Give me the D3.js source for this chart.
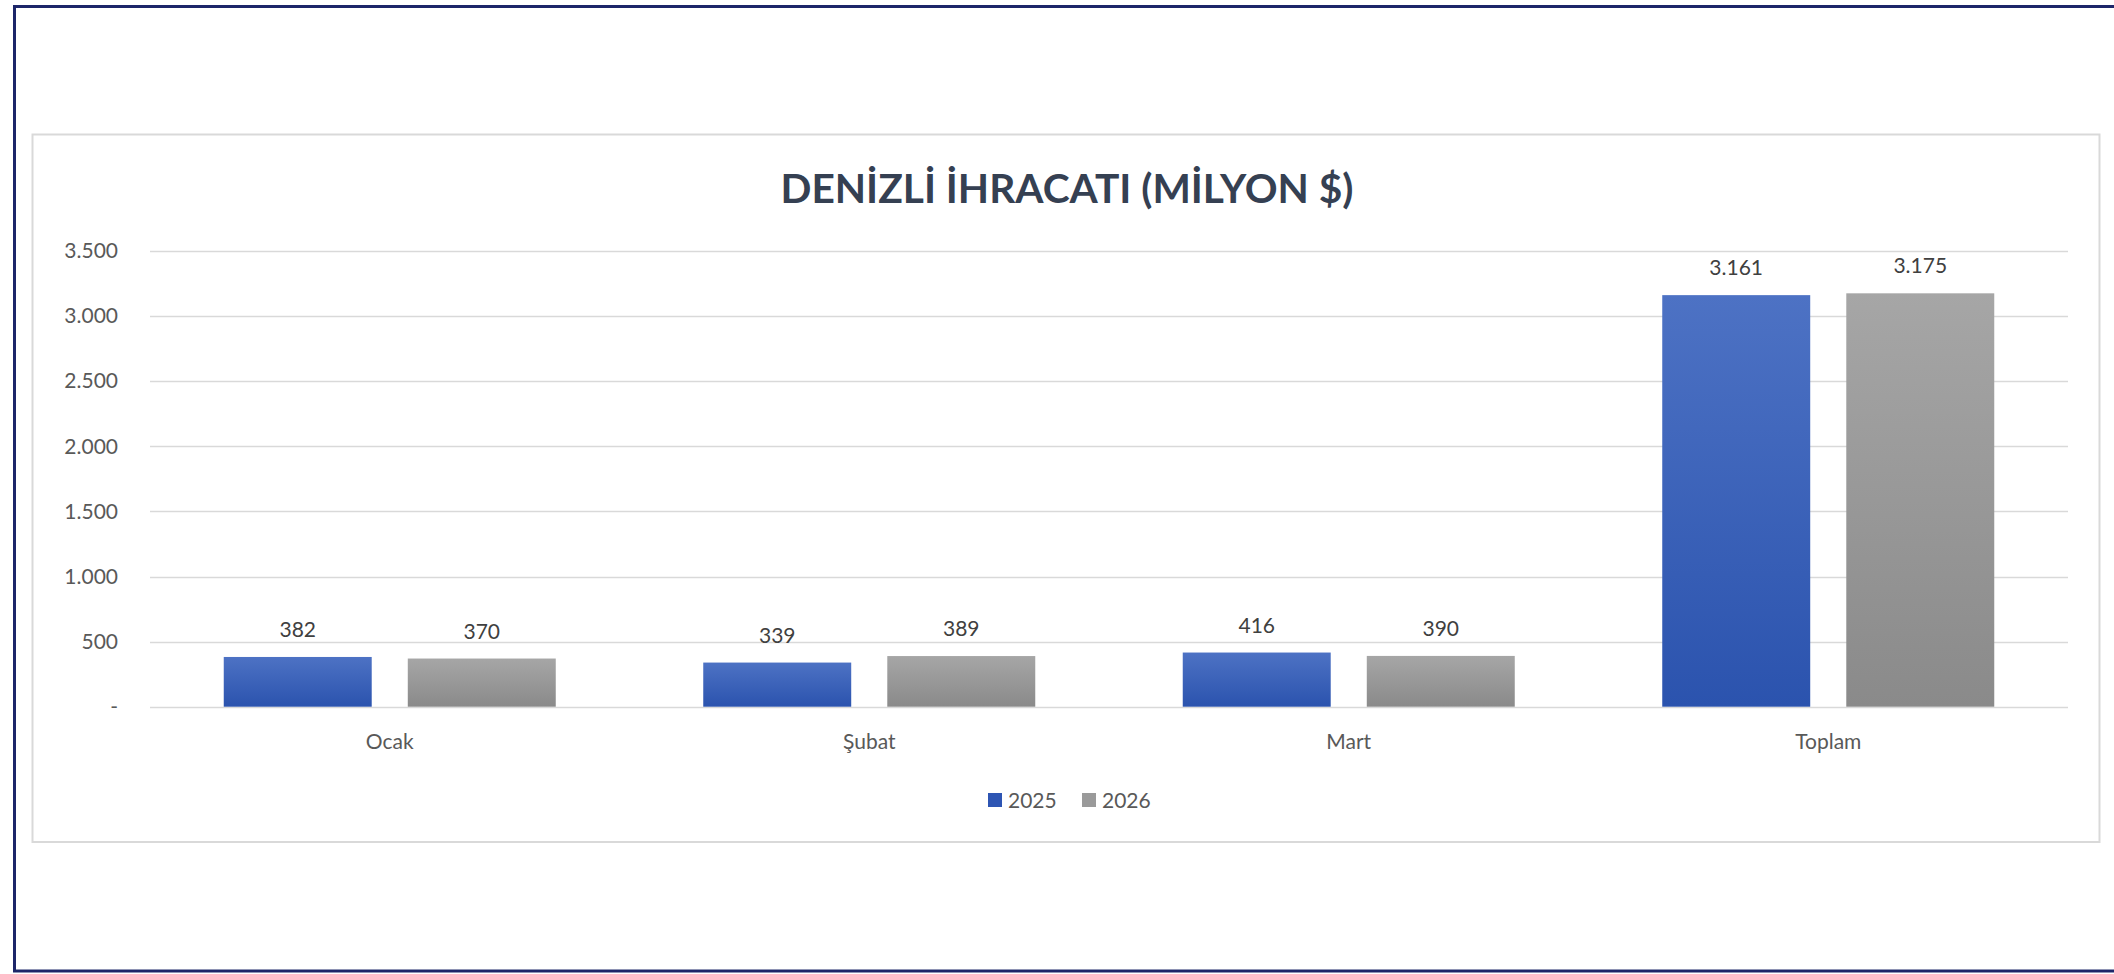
<!DOCTYPE html>
<html>
<head>
<meta charset="utf-8">
<script src="https://cdn.jsdelivr.net/npm/d3@7"></script>
<style>
  html, body { margin: 0; padding: 0; background: #ffffff; }
  svg { display: block; }
  text { font-family: Lato, "Open Sans", sans-serif; }
</style>
</head>
<body>
<svg id="chart" width="2114" height="974"></svg>
<script>
const categories = ["Ocak", "Şubat", "Mart", "Toplam"];
const seriesNames = ["2025", "2026"];
const values2025 = [382, 339, 416, 3161];
const values2026 = [370, 389, 390, 3175];
const yTicks = [0, 500, 1000, 1500, 2000, 2500, 3000, 3500];
const titleText = "DENİZLİ İHRACATI (MİLYON $)";

const W = 2114, H = 974;
const svg = d3.select("#chart");

// gradients
const defs = svg.append("defs");
const gradSpecs = [
  {id: "g2025", top: "#4d72c4", bottom: "#2b53ae"},
  {id: "g2026", top: "#a6a6a6", bottom: "#8a8a8a"}
];
gradSpecs.forEach(g => {
  const lg = defs.append("linearGradient").attr("id", g.id)
    .attr("x1", 0).attr("y1", 0).attr("x2", 0).attr("y2", 1);
  lg.append("stop").attr("offset", "0%").attr("stop-color", g.top);
  lg.append("stop").attr("offset", "100%").attr("stop-color", g.bottom);
});
const legendColors = ["#2e55b3", "#9a9a9a"];

// outer navy frame
svg.append("rect").attr("x", 14.5).attr("y", 6.5).attr("width", 2130).attr("height", 964.5)
  .attr("fill", "none").attr("stroke", "#1d2669").attr("stroke-width", 3);

// inner chart box
svg.append("rect").attr("x", 32.5).attr("y", 134.5).attr("width", 2067).attr("height", 707.5)
  .attr("fill", "#ffffff").attr("stroke", "#d9d9d9").attr("stroke-width", 2);

// scales
const plot = {left: 150, right: 2068, top: 251, bottom: 706.7};
const y = d3.scaleLinear().domain([0, 3500]).range([plot.bottom, plot.top]);
const x0 = d3.scaleBand().domain(categories).range([plot.left, plot.right]).paddingInner(0.3076).paddingOuter(0.1538);
const x1 = d3.scaleBand().domain(seriesNames).range([0, x0.bandwidth()]).paddingInner(0.196).paddingOuter(0);

const fmt = v => v === 0 ? "-" : d3.format(",")(v).replace(/,/g, ".");

// gridlines
svg.append("g").selectAll("line").data(yTicks).join("line")
  .attr("x1", plot.left).attr("x2", plot.right)
  .attr("y1", d => Math.round(y(d)) + 0.5).attr("y2", d => Math.round(y(d)) + 0.5)
  .attr("stroke", "#d9d9d9").attr("stroke-width", 1.5);

// y axis labels via d3 axis
const yAxis = d3.axisLeft(y).tickValues(yTicks).tickFormat(fmt).tickSize(0).tickPadding(0);
const gy = svg.append("g").attr("transform", "translate(118,0)").call(yAxis);
gy.select(".domain").remove();
gy.selectAll("text").attr("font-size", 21).attr("fill", "#595959")
  .attr("font-family", "Lato, 'Open Sans', sans-serif");

// x axis labels
const xAxis = d3.axisBottom(x0).tickSize(0).tickPadding(0);
const gx = svg.append("g").attr("transform", "translate(0,734)").call(xAxis);
gx.select(".domain").remove();
gx.selectAll("text").attr("font-size", 21).attr("fill", "#595959")
  .attr("font-family", "Lato, 'Open Sans', sans-serif");

// bars
const rows = categories.map((c, i) => ({cat: c, vals: [values2025[i], values2026[i]]}));
const groups = svg.append("g").selectAll("g").data(rows).join("g")
  .attr("transform", d => `translate(${x0(d.cat)},0)`);
groups.selectAll("rect").data(d => d.vals.map((v, j) => ({s: seriesNames[j], v, j}))).join("rect")
  .attr("x", d => x1(d.s)).attr("width", x1.bandwidth())
  .attr("y", d => y(d.v)).attr("height", d => y(0) - y(d.v))
  .attr("fill", d => `url(#${gradSpecs[d.j].id})`);
groups.selectAll("text").data(d => d.vals.map((v, j) => ({s: seriesNames[j], v, j}))).join("text")
  .attr("x", d => x1(d.s) + x1.bandwidth() / 2)
  .attr("y", d => y(d.v) - 20)
  .attr("text-anchor", "middle").attr("font-size", 21).attr("fill", "#404040")
  .text(d => fmt(d.v));

// title
svg.append("text").attr("x", 1067).attr("y", 203).attr("text-anchor", "middle")
  .attr("font-size", 40).attr("font-weight", "bold").attr("fill", "#354052")
  .attr("textLength", 573).attr("lengthAdjust", "spacingAndGlyphs")
  .text(titleText);

// legend
const legend = svg.append("g").attr("transform", "translate(988,0)");
const legendX = [0, 94];
seriesNames.forEach((s, i) => {
  legend.append("rect").attr("x", legendX[i]).attr("y", 793).attr("width", 14).attr("height", 14)
    .attr("fill", legendColors[i]);
  legend.append("text").attr("x", legendX[i] + 20).attr("y", 808)
    .attr("font-size", 21).attr("fill", "#595959").text(s);
});
</script>
</body>
</html>
